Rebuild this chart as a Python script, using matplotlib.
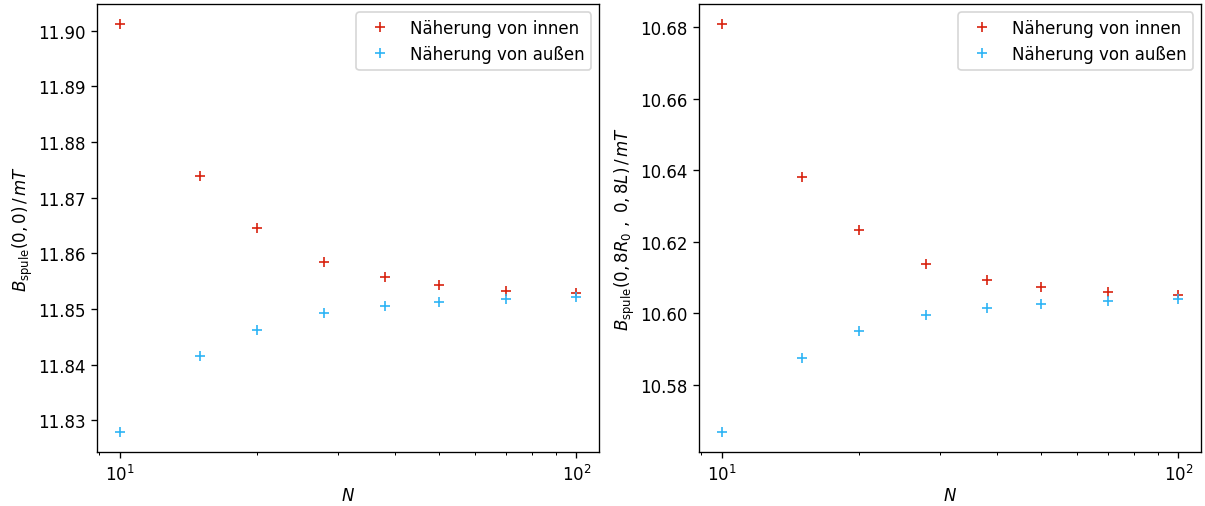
import matplotlib
matplotlib.use('Agg')
import matplotlib.pyplot as plt

N = [10, 15, 20, 28, 38, 50, 70, 100]

# B_spule(0, 0)
innen_mitte = [11.9011, 11.8739, 11.8645, 11.8585, 11.8557, 11.8543, 11.8533, 11.8529]
aussen_mitte = [11.8279, 11.8415, 11.8462, 11.8492, 11.8506, 11.8513, 11.8518, 11.8521]

# B_spule(0,8R0 , 0,8L)
innen_rand = [10.6808, 10.6380, 10.6234, 10.6138, 10.6094, 10.6074, 10.6058, 10.6050]
aussen_rand = [10.5668, 10.5876, 10.5949, 10.5994, 10.6016, 10.6027, 10.6034, 10.6040]

rot = '#d8230f'
blau = '#2db4f5'

W, H, dpi = 1205, 507, 120
fig = plt.figure(figsize=(W / dpi, H / dpi), dpi=dpi)
b = 1 - 453.3 / H
h = (453.3 - 5) / H
ax1 = fig.add_axes([97.3 / W, b, 502 / W, h])
ax2 = fig.add_axes([699.3 / W, b, 502 / W, h])

ax1.plot(N, innen_mitte, '+', color=rot, markersize=6.3, label='Näherung von innen')
ax1.plot(N, aussen_mitte, '+', color=blau, markersize=6.3, label='Näherung von außen')
ax1.set_xscale('log')
ax1.set_xlabel('$N$', labelpad=1)
ax1.set_ylabel(r'$B_\mathrm{spule}(0,0)\,/\,mT$', labelpad=2)
ax1.legend(loc='upper right')

ax2.plot(N, innen_rand, '+', color=rot, markersize=6.3, label='Näherung von innen')
ax2.plot(N, aussen_rand, '+', color=blau, markersize=6.3, label='Näherung von außen')
ax2.set_xscale('log')
ax2.set_xlabel('$N$', labelpad=1)
ax2.set_ylabel(r'$B_\mathrm{spule}(0,8R_0\ ,\ 0,8L)\,/\,mT$', labelpad=2)
ax2.legend(loc='upper right')

fig.savefig('out.png', dpi=dpi)
